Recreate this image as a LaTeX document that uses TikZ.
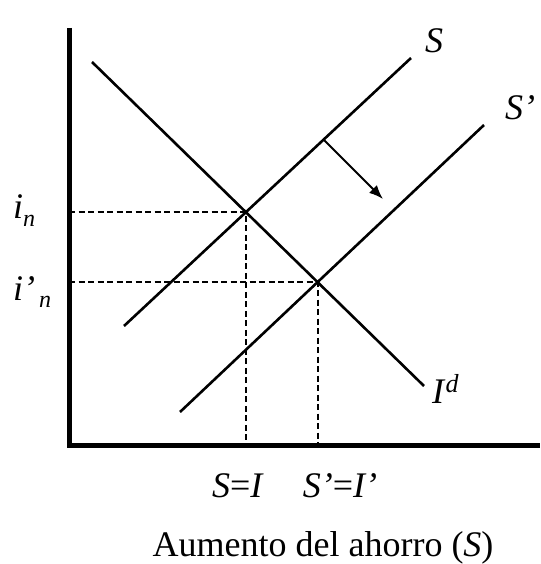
\documentclass[tikz,border=0pt]{standalone}
\usepackage{fontspec}
\setmainfont{Liberation Serif}
\usetikzlibrary{arrows.meta,intersections}
\tikzset{
  axisline/.style={line width=5pt, line join=miter},
  curve/.style={line width=2.6pt},
  guide/.style={line width=2pt, dash pattern=on 6pt off 3.5pt},
  lbl/.style={inner sep=0pt, font=\fontsize{36}{43}\selectfont},
  shiftarrow/.style={line width=2pt, -{Latex[length=14pt,width=11pt]}}
}
\begin{document}
\begin{tikzpicture}[x=1pt,y=-1pt]
\useasboundingbox (0,0) rectangle (540,564);
% axes
\coordinate (ytop) at (69,28);
\coordinate (origin) at (69,445.5);
\coordinate (xend) at (540,445.5);
\draw[axisline] (ytop) -- (origin) -- (xend);
% curves
\coordinate (Sa) at (124,326);
\coordinate (Sb) at (411,58);
\coordinate (Spa) at (180,412);
\coordinate (Spb) at (484,125);
\coordinate (Ia) at (92,62);
\coordinate (Ib) at (424,386);
\draw[curve, name path=S] (Sa) -- (Sb);
\draw[curve, name path=Sp] (Spa) -- (Spb);
\draw[curve, name path=Id] (Ia) -- (Ib);
\path[name intersections={of=S and Id, by=E1}];
\path[name intersections={of=Sp and Id, by=E2}];
% guides
\draw[guide] (origin |- E1) -- (E1) -- (E1 |- origin);
\draw[guide] (origin |- E2) -- (E2) -- (E2 |- origin);
% shift arrow
\coordinate (ArA) at (324,140);
\coordinate (ArB) at (383,199);
\draw[shiftarrow] (ArA) -- (ArB);
% labels
\node[lbl, anchor=base west] (lS) at (425,53) {\textit{S}};
\node[lbl, anchor=base west] (lSp) at (505,120) {\textit{S’}};
\node[lbl, anchor=base west] (lId) at (432,403) {\textit{I}\raisebox{11pt}{\fontsize{26}{30}\selectfont\textit{d}}};
\node[lbl, anchor=base west] (lin) at (13,218) {\textit{i}\raisebox{-8pt}{\fontsize{24}{28}\selectfont\textit{n}}};
\node[lbl, anchor=base west] (lipn) at (13,300) {\textit{i’}\hspace{4pt}\raisebox{-7pt}{\fontsize{24}{28}\selectfont\textit{n}}};
\node[lbl, anchor=base] (lSI) at (238,497) {\textit{S}=\textit{I}};
\node[lbl, anchor=base] (lSpIp) at (340,497) {\textit{S’}=\textit{I’}};
\node[lbl, anchor=base] (lx) at (323,556) {Aumento del ahorro (\textit{S})};
\end{tikzpicture}
\end{document}
